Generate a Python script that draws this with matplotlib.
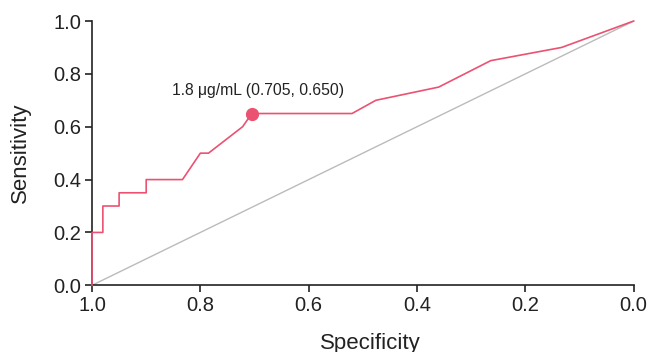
# ROC curve with reversed specificity axis

import matplotlib
matplotlib.use('Agg')
import matplotlib.pyplot as plt

plt.rcParams['font.family'] = ['Liberation Sans', 'DejaVu Sans']

# ROC points (specificity, sensitivity)
spec = [1.0, 1.0, 0.98, 0.98, 0.95, 0.95, 0.90, 0.90, 0.833, 0.80, 0.785, 0.722,
        0.705, 0.52, 0.476, 0.36, 0.264, 0.133, 0.0]
sens = [0.0, 0.2, 0.2, 0.3, 0.3, 0.35, 0.35, 0.40, 0.40, 0.50, 0.50, 0.60,
        0.65, 0.65, 0.70, 0.75, 0.85, 0.90, 1.0]
cut_spec = 0.705
cut_sens = 0.650
cut_label = '1.8 \u03bcg/mL (0.705, 0.650)'
ticks = [1.0, 0.8, 0.6, 0.4, 0.2, 0.0]

red = '#EB5272'

fig = plt.figure(figsize=(6.49, 3.52), dpi=100)
ax = fig.add_axes([0.1418, 0.1895, 0.8346, 0.7508])

ax.plot([1, 0], [0, 1], color='#BBBBBB', lw=1.0, zorder=1)
ax.plot(spec, sens, color=red, lw=1.2, zorder=4, clip_on=False)
ax.plot(cut_spec, cut_sens, 'o', color=red, markersize=8.5, zorder=5)
ax.text(0.694, 0.736, cut_label, ha='center', va='center', fontsize=11.3, color='#222222')

ax.set_xlim(1.0, 0.0)
ax.set_ylim(0.0, 1.0)
ax.set_xticks(ticks)
ax.set_yticks(ticks[::-1])
ax.set_xticklabels(['%.1f' % t for t in ticks])
ax.set_yticklabels(['%.1f' % t for t in ticks[::-1]])
ax.tick_params(labelsize=14.5, length=5, width=1.2, color='#222222', labelcolor='#222222', pad=3)

for s in ['top', 'right']:
    ax.spines[s].set_visible(False)
for s in ['left', 'bottom']:
    ax.spines[s].set_linewidth(1.2)
    ax.spines[s].set_color('#222222')

ax.set_xlabel('Specificity', fontsize=16, color='#222222', va='top')
ax.set_ylabel('Sensitivity', fontsize=16, color='#222222', va='center')
ax.xaxis.set_label_coords(0.513, -0.180)
ax.yaxis.set_label_coords(-0.133, 0.5)

fig.savefig('out.png', dpi=100)
